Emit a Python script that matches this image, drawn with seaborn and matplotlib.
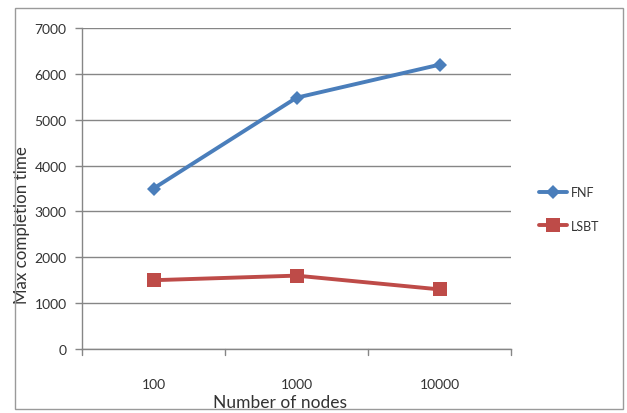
import matplotlib
matplotlib.use("Agg")
import matplotlib.pyplot as plt
from matplotlib.patches import Rectangle
import seaborn as sns
import pandas as pd

categories = ["100", "1000", "10000"]
fnf = [3500, 5480, 6200]
lsbt = [1500, 1600, 1300]
series_names = ["FNF", "LSBT"]
y_ticks = [0, 1000, 2000, 3000, 4000, 5000, 6000, 7000]

df = pd.DataFrame({
    "nodes": categories * 2,
    "pos": list(range(len(categories))) * 2,
    "time": fnf + lsbt,
    "series": [series_names[0]] * 3 + [series_names[1]] * 3,
})

sns.set_style("white")
plt.rcParams["font.family"] = ["Lato", "DejaVu Sans"]

fig = plt.figure(figsize=(6.27, 4.14), dpi=100)
ax = fig.add_axes([82 / 627, 64 / 414, 429 / 627, 321 / 414])

palette = {"FNF": "#4A7EBB", "LSBT": "#BE4B48"}
markers = {"FNF": "D", "LSBT": "s"}
msize = {"FNF": 7.5, "LSBT": 9.5}
sns.lineplot(data=df, x="pos", y="time", hue="series", style="series",
             palette=palette, markers=markers, dashes=False, linewidth=2.8,
             markersize=9.5, markeredgewidth=0, ax=ax, legend=False)
# diamond markers are drawn a bit smaller
for line in ax.lines:
    if line.get_marker() == "D":
        line.set_markersize(msize["FNF"])

ax.set_xlim(-0.5, 2.5)
ax.set_ylim(0, 7000)
ax.set_yticks(y_ticks)
ax.set_yticklabels([str(v) for v in y_ticks], fontsize=10, color="#333333")
ax.set_xticks(range(len(categories)))
ax.set_xticklabels(categories, fontsize=10, color="#333333")
ax.tick_params(axis="x", length=0, pad=21)
ax.tick_params(axis="y", length=5, color="#868686", width=1, pad=6, direction="out", left=True)
ax.yaxis.grid(True, color="#868686", linewidth=1)
ax.set_axisbelow(True)
for s in ["top", "right"]:
    ax.spines[s].set_visible(False)
for s in ["left", "bottom"]:
    ax.spines[s].set_color("#868686")
    ax.spines[s].set_linewidth(1)

# category boundary tick marks along the x axis
for b in [-0.5, 0.5, 1.5, 2.5]:
    ax.plot([b, b], [0, -120], color="#868686", linewidth=1, clip_on=False)

ax.set_xlabel("Number of nodes", fontsize=12.5, color="#333333", va="center")
ax.xaxis.set_label_coords(0.4615, -0.165)
ax.set_ylabel("Max completion time", fontsize=12.2, color="#333333", va="center")
ax.yaxis.set_label_coords(-0.14, 0.39)

# legend
handles = [plt.Line2D([], [], color=palette[n], marker=markers[n], linewidth=2.8,
                      markersize=msize[n], markeredgewidth=0)
           for n in series_names]
fig.legend(handles, series_names, loc="center left",
           bbox_to_anchor=(528 / 627, 1 - 210 / 414), frameon=False,
           fontsize=9, handlelength=2.2, handletextpad=0.3,
           labelspacing=1.7, labelcolor="#333333")

# chart area border
fig.patches.append(Rectangle((15 / 627, 4 / 414), 608 / 627, 401 / 414,
                             transform=fig.transFigure, fill=False,
                             edgecolor="#9a9a9a", linewidth=1))

fig.savefig("out.png", dpi=100)
